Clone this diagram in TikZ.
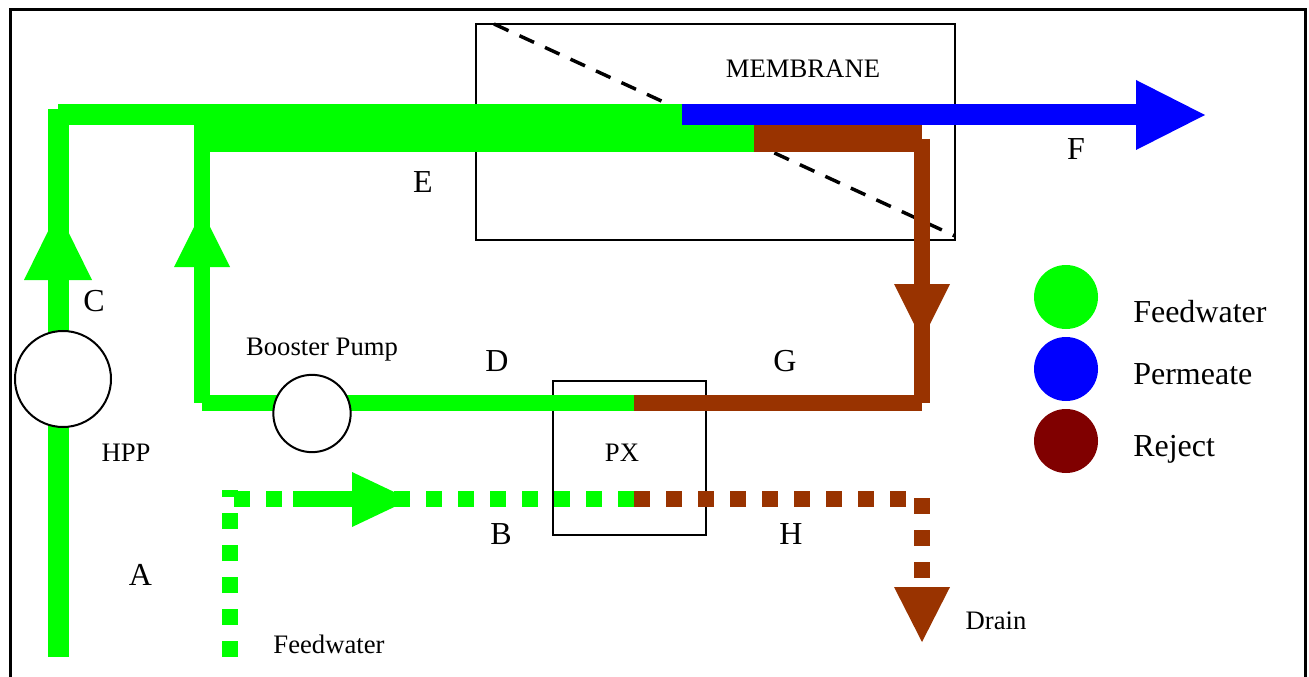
\documentclass[tikz,border=0pt]{standalone}
\usepackage{fontspec}
\setmainfont{Liberation Serif}
\usepackage{tikz}
\definecolor{feedgreen}{RGB}{0,255,0}
\definecolor{permblue}{RGB}{0,0,255}
\definecolor{rejbrown}{RGB}{153,51,0}
\definecolor{rejdot}{RGB}{128,0,0}
\tikzset{
  font={\fontsize{20pt}{24}\selectfont},
  biglabel/.style={font={\fontsize{24pt}{28}\selectfont}},
  wall/.style={line width=1.5pt},
  dashdot/.style={dash pattern=on 12pt off 12pt},
  thinpipe/.style={line width=12pt},
  widepipe/.style={line width=15.75pt},
  legdot/.style={circle,minimum size=48pt}}

\begin{document}
\begin{tikzpicture}[x=0.75pt,y=0.75pt]
\tikzstyle{every node}+=[inner sep=0pt]
\useasboundingbox (0,0) rectangle (1309,-677);
% frame and units
\draw [black,line width=2.25pt] (10,-677) -- (10,-10) -- (1305.5,-10) -- (1305.5,-677);
\draw [black,wall] (476,-24) rectangle (955,-240);
\draw [black,wall] (553,-381) rectangle (706,-535);
\draw [black,line width=2.6pt,dash pattern=on 12pt off 9.04pt] (494,-24) -- (955,-236);
% junctions
\coordinate (ain) at (58,-657);
\coordinate (acorner) at (58,-109);
\coordinate (atop) at (58,-114.5);
\coordinate (asplit) at (682,-114.5);
\coordinate (ftip) at (1140,-114.5);
\coordinate (ebandin) at (194,-138.5);
\coordinate (ebandmid) at (754,-138.5);
\coordinate (ebandout) at (922,-138.5);
\coordinate (dtop) at (202,-125);
\coordinate (dlow) at (202,-403);
\coordinate (dleft) at (202,-402.5);
\coordinate (pxhigh) at (634,-402.5);
\coordinate (gright) at (922,-402.5);
\coordinate (gtop) at (922,-139);
\coordinate (glow) at (922,-403);
\coordinate (fwin) at (230,-657);
\coordinate (fwup) at (230,-490);
\coordinate (bstart) at (234,-498.5);
\coordinate (pxlow) at (634,-498.5);
\coordinate (hend) at (906,-498.5);
\coordinate (drtop) at (922,-498);
\coordinate (drlow) at (922,-578);
\coordinate (bsolid) at (293,-498.5);
\coordinate (bhead) at (352,-498.5);
% solid pipes
\draw [feedgreen,widepipe] (ain) -- (acorner);
\draw [feedgreen,widepipe] (atop) -- (asplit);
\draw [permblue,widepipe] (asplit) -- (ftip);
\draw [feedgreen,line width=20.25pt] (ebandin) -- (ebandmid);
\draw [rejbrown,line width=20.25pt] (ebandmid) -- (ebandout);
\draw [feedgreen,thinpipe] (dtop) -- (dlow);
\draw [feedgreen,thinpipe] (dleft) -- (pxhigh);
\draw [rejbrown,thinpipe] (pxhigh) -- (gright);
\draw [rejbrown,thinpipe] (gtop) -- (glow);
% dotted pipes
\draw [feedgreen,thinpipe,dashdot] (fwin) -- (fwup);
\draw [feedgreen,thinpipe,dashdot] (bstart) -- (pxlow);
\draw [rejbrown,thinpipe,dashdot] (pxlow) -- (hend);
\draw [rejbrown,thinpipe,dashdot] (drtop) -- (drlow);
\draw [feedgreen,thinpipe] (bsolid) -- (bhead);
% arrow heads
\fill [feedgreen] (58,-211) -- (92,-280) -- (24,-280);
\fill [feedgreen] (202,-211) -- (230,-267) -- (174,-267);
\fill [feedgreen] (410,-499.5) -- (352,-472) -- (352,-527);
\fill [permblue] (1205,-115) -- (1136,-80) -- (1136,-150);
\fill [rejbrown] (922,-340) -- (894,-284) -- (950,-284);
\fill [rejbrown] (922,-642) -- (894,-587) -- (950,-587);
% pumps
\node (hpp) at (63,-379) [circle,draw=black,wall,fill=white,minimum size=72pt] {};
\node (booster) at (312,-413.5) [circle,draw=black,wall,fill=white,minimum size=58pt] {};
% legend
\node (legfeed) at (1066,-297) [legdot,fill=feedgreen] {};
\node (legperm) at (1066,-369) [legdot,fill=permblue] {};
\node (legrej) at (1066,-441) [legdot,fill=rejdot] {};
\node (legfeedtxt) at (1133,-322) [anchor=base west,biglabel] {Feedwater};
\node (legpermtxt) at (1133,-384) [anchor=base west,biglabel] {Permeate};
\node (legrejtxt) at (1133,-456) [anchor=base west,biglabel] {Reject};
% labels
\node (membranetxt) at (803,-69) {MEMBRANE};
\node (boostertxt) at (322,-350) {Booster Pump};
\node (hpptxt) at (126,-453) {HPP};
\node (pxtxt) at (622,-453) {PX};
\node (feedtxt) at (329,-644) {Feedwater};
\node (draintxt) at (996,-621) {Drain};
\node (lblA) at (140.5,-575) [biglabel] {A};
\node (lblB) at (501,-534) [biglabel] {B};
\node (lblC) at (94,-301) [biglabel] {C};
\node (lblD) at (497,-361) [biglabel] {D};
\node (lblE) at (423,-182) [biglabel] {E};
\node (lblF) at (1076,-149) [biglabel] {F};
\node (lblG) at (785,-361) [biglabel] {G};
\node (lblH) at (791,-534) [biglabel] {H};
\end{tikzpicture}
\end{document}
